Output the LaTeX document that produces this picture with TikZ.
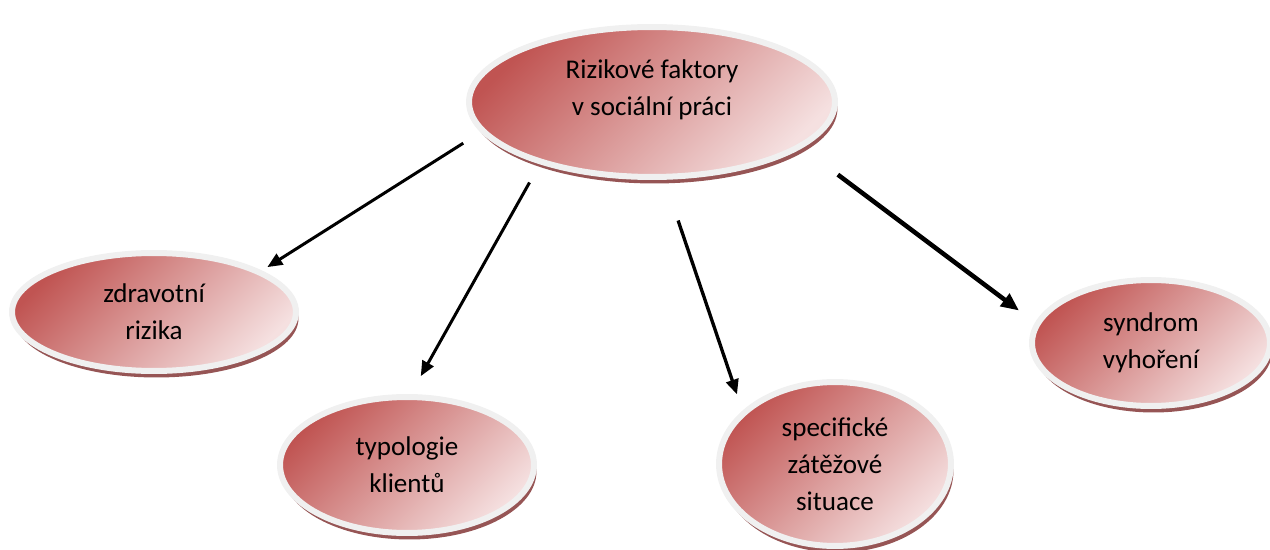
\documentclass[tikz,border=0pt]{standalone}
\usepackage{fontspec}
\setmainfont{Carlito}
\usepackage{xcolor}
\usetikzlibrary{shapes.geometric,shadows,arrows.meta}
\definecolor{rdark}{RGB}{192,84,82}
\definecolor{rlight}{RGB}{245,224,224}
\definecolor{rrim}{RGB}{240,240,240}
\definecolor{rshade}{RGB}{150,85,85}

\begin{document}
\begin{tikzpicture}[x=0.02cm,y=-0.02cm,
	bubble/.style={ellipse,inner sep=0pt,draw=rrim,line width=0.12cm,top color=rdark,bottom color=rlight,shading angle=45,
		drop shadow={shadow xshift=0.05cm,shadow yshift=-0.13cm,fill=rshade,opacity=1},align=center,font=\fontsize{15.4pt}{21pt}\selectfont},
	txt/.style={align=center,font=\fontsize{15.4pt}{21pt}\selectfont},
	link/.style={-{Triangle[length=0.3cm,width=0.25cm]},line width=1.7pt}]
	\useasboundingbox (0,0) rectangle (1270,550);
	\node[bubble,minimum width=7.32cm,minimum height=3.0cm] (main) at (652,102) {};
	\node[txt] (maintxt) at (652,90) {Rizikové faktory\\v sociální práci};
	\node[bubble,minimum width=5.68cm,minimum height=2.36cm] (zdrav) at (154,312) {zdravotní\\rizika};
	\node[bubble,minimum width=5.08cm,minimum height=2.72cm] (typ) at (407,465) {typologie\\klientů};
	\node[bubble,minimum width=4.64cm,minimum height=3.28cm] (spec) at (835,464) {specifické\\zátěžové\\situace};
	\node[bubble,minimum width=4.76cm,minimum height=2.52cm] (synd) at (1151,343) {syndrom\\vyhoření};
	\draw[link,shorten <=0.41cm,shorten >=0.13cm] (main.190.2) -- (zdrav.21.4);
	\draw[link,shorten <=0.42cm,shorten >=0.41cm] (main.209.4) -- (typ.87.2);
	\draw[link,line width=1.9pt,shorten <=0.86cm,shorten >=0.34cm] (main.279.3) -- (spec.150.3);
	\draw[link,line width=2.6pt,-{Triangle[length=0.36cm,width=0.3cm]},shorten <=0.89cm,shorten >=0.40cm] (main.343.8) -- (synd.170);
\end{tikzpicture}
\end{document}
